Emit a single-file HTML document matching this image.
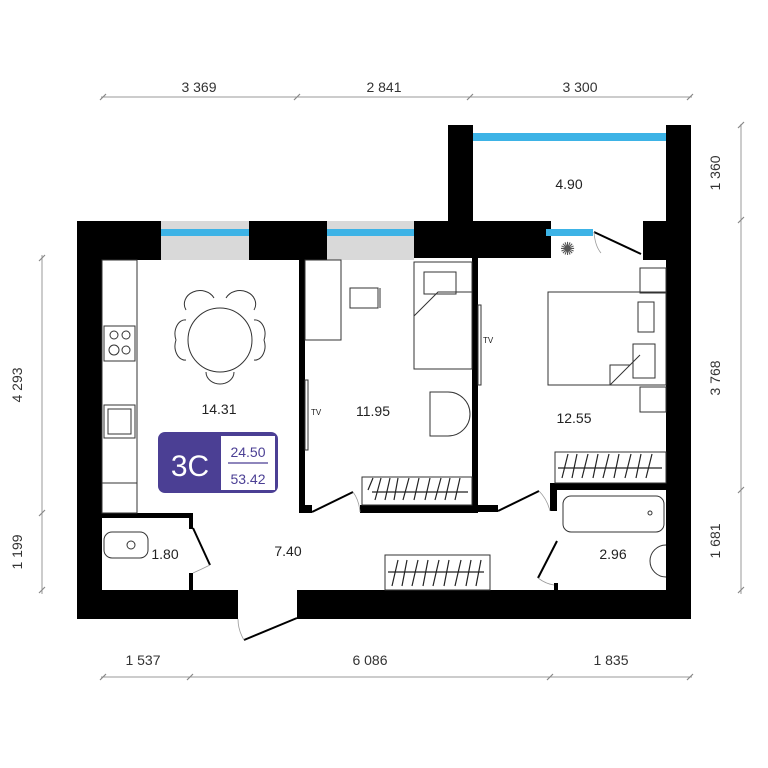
<!DOCTYPE html>
<html><head><meta charset="utf-8"><style>
html,body{margin:0;padding:0;background:#fff}
svg{display:block;font-family:"Liberation Sans",sans-serif}
</style></head><body>
<svg width="768" height="768" viewBox="0 0 768 768" xmlns="http://www.w3.org/2000/svg">
<!-- dimension lines -->
<g stroke="#999" stroke-width="1" fill="none">
<line x1="101" y1="97" x2="692" y2="97"/>
<line x1="101" y1="677" x2="692" y2="677"/>
<line x1="42" y1="255" x2="42" y2="594"/>
<line x1="741" y1="124" x2="741" y2="594"/>
</g>
<g stroke="#888" stroke-width="1.2">
<path d="M100 100l6-6M294 100l6-6M467 100l6-6M687 100l6-6"/>
<path d="M100 680l6-6M187 680l6-6M547 680l6-6M687 680l6-6"/>
<path d="M39 261l6-6M39 516l6-6M39 593l6-6"/>
<path d="M738 128l6-6M738 223l6-6M738 493l6-6M738 593l6-6"/>
</g>
<g font-size="14" fill="#333" text-anchor="middle">
<text x="199" y="92">3 369</text><text x="384" y="92">2 841</text><text x="580" y="92">3 300</text>
<text x="143" y="665">1 537</text><text x="370" y="665">6 086</text><text x="611" y="665">1 835</text>
<text transform="translate(22 385) rotate(-90)">4 293</text>
<text transform="translate(22 552) rotate(-90)">1 199</text>
<text transform="translate(720 173) rotate(-90)">1 360</text>
<text transform="translate(720 378) rotate(-90)">3 768</text>
<text transform="translate(720 541) rotate(-90)">1 681</text>
</g>
<!-- walls -->
<g fill="#000">
<rect x="77" y="221" width="25" height="398"/>
<rect x="77" y="590" width="161" height="29"/>
<rect x="297" y="590" width="394" height="29"/>
<rect x="666" y="125" width="25" height="494"/>
<rect x="448" y="125" width="25" height="125"/>
<rect x="77" y="221" width="84" height="39"/>
<rect x="249" y="221" width="78" height="39"/>
<rect x="414" y="221" width="137" height="37"/>
<rect x="643" y="221" width="24" height="39"/>
<rect x="299" y="258" width="6" height="255"/>
<rect x="299" y="505" width="13" height="8"/>
<rect x="360" y="505" width="118" height="8"/>
<rect x="472" y="258" width="6" height="254"/>
<rect x="472" y="505" width="26" height="7"/>
<rect x="550" y="483" width="117" height="7"/>
<rect x="550" y="483" width="7" height="28"/>
<rect x="554" y="583" width="4" height="8"/>
<rect x="100" y="513" width="93" height="5"/>
<rect x="189" y="513" width="4" height="16"/>
<rect x="189" y="573" width="4" height="17"/>
</g>
<!-- windows -->
<rect x="161" y="221" width="88" height="39" fill="#d9d9d9"/>
<rect x="161" y="229" width="88" height="7" fill="#3db3e6"/>
<rect x="327" y="221" width="87" height="39" fill="#d9d9d9"/>
<rect x="327" y="229" width="87" height="7" fill="#3db3e6"/>
<rect x="473" y="133" width="193" height="8" fill="#3db3e6"/>
<rect x="546" y="229" width="47" height="7" fill="#3db3e6"/>
<!-- doors -->
<g stroke="#000" stroke-width="2" fill="none">
<line x1="594" y1="232" x2="641" y2="254"/>
<line x1="312" y1="512" x2="353" y2="492"/>
<line x1="498" y1="511" x2="539" y2="491"/>
<line x1="557" y1="541" x2="538" y2="578"/>
<line x1="193" y1="528" x2="210" y2="565"/>
<line x1="297" y1="618" x2="244" y2="640"/>
</g>
<g stroke="#999" stroke-width="0.8" fill="none">
<path d="M353 492q6 8 7 20M539 491q8 8 11 20M538 578q8 6 16 7M210 565q-8 4 -17 8M244 640q-6-10-6-21M594 232q1 14 7 21"/>
</g>
<!-- furniture -->
<g stroke="#333" stroke-width="1" fill="none">
<rect x="102" y="260" width="35" height="253"/>
<rect x="104" y="326" width="31" height="35"/>
<circle cx="114" cy="335" r="4"/><circle cx="126" cy="335" r="4"/><circle cx="114" cy="350" r="5"/><circle cx="126" cy="350" r="4"/>
<rect x="104" y="405" width="31" height="33"/><rect x="108" y="409" width="23" height="25"/>
<circle cx="220" cy="340" r="32"/>
<path d="M186 310a14 12 0 0 1 28-12M226 298a14 12 0 0 1 28 12M176 340a10 14 0 0 0 10 20M176 340a10 14 0 0 1 10-20M264 340a10 14 0 0 1-10 20M264 340a10 14 0 0 0-10-20M206 372a14 12 0 0 0 28 0"/>
<rect x="305" y="260" width="36" height="80"/>
<path d="M350 288h28v20h-28zM380 288v20"/>
<rect x="414" y="262" width="58" height="107"/>
<rect x="424" y="272" width="32" height="22"/>
<path d="M414 316l24-24h34"/>
<path d="M430 392h18a20 20 0 0 1 0 44h-18z"/>
<rect x="362" y="477" width="110" height="28"/>
<rect x="385" y="555" width="105" height="35"/>
<rect x="555" y="452" width="111" height="31"/>
<rect x="548" y="292" width="118" height="93"/>
<rect x="640" y="268" width="26" height="25"/><rect x="640" y="387" width="26" height="25"/>
<rect x="638" y="302" width="16" height="30"/><rect x="633" y="344" width="22" height="34"/>
<path d="M610 385v-20h20l-20 20M630 365l10-10"/>
<rect x="563" y="496" width="101" height="36" rx="8"/>
<circle cx="650" cy="513" r="2"/>
<path d="M666 545a16 16 0 0 0 0 32"/>
<rect x="104" y="532" width="44" height="26" rx="8"/>
<circle cx="131" cy="545" r="4"/>
<rect x="305" y="380" width="3" height="70"/>
<rect x="478" y="305" width="3" height="80"/>
<rect x="102" y="483" width="35" height="30"/>
</g>
<g stroke="#222" stroke-width="1.2">
<path d="M372 492h96M368 490l5-12M375 500l6-22M385 500l5-22M394 500l4-22M403 500l6-22M414 500l5-22M425 500l5-22M435 500l6-22M445 500l5-22M455 500l5-22"/>
<path d="M388 572h96M392 586l6-26M402 586l5-26M412 586l6-26M423 586l5-26M433 586l6-26M444 586l5-26M455 586l6-26M466 586l5-26M476 586l5-26"/>
<path d="M558 468h104M562 478l6-24M572 478l5-24M582 478l6-24M593 478l5-24M603 478l6-24M614 478l5-24M625 478l6-24M636 478l5-24M646 478l6-24"/>
</g>
<g font-size="14" fill="#222" text-anchor="middle">
<text x="219" y="414">14.31</text><text x="373" y="416">11.95</text>
<text x="574" y="423">12.55</text><text x="569" y="189">4.90</text>
<text x="165" y="559">1.80</text><text x="288" y="556">7.40</text><text x="613" y="559">2.96</text>
</g>
<g font-size="8" fill="#222"><text x="311" y="415">TV</text><text x="483" y="343">TV</text></g>
<text x="560" y="255" font-size="18" fill="#555">✺</text>
<!-- badge -->
<rect x="158" y="432" width="120" height="61" rx="7" fill="#4b3f94"/>
<rect x="221" y="436" width="54" height="54" fill="#fff"/>
<text x="190" y="476" font-size="30" fill="#fff" text-anchor="middle">3C</text>
<line x1="228" y1="463" x2="268" y2="463" stroke="#4b3f94" stroke-width="1.2"/>
<g font-size="14" fill="#4b3f94" text-anchor="middle"><text x="248" y="457">24.50</text><text x="248" y="484">53.42</text></g>
</svg>
</body></html>
